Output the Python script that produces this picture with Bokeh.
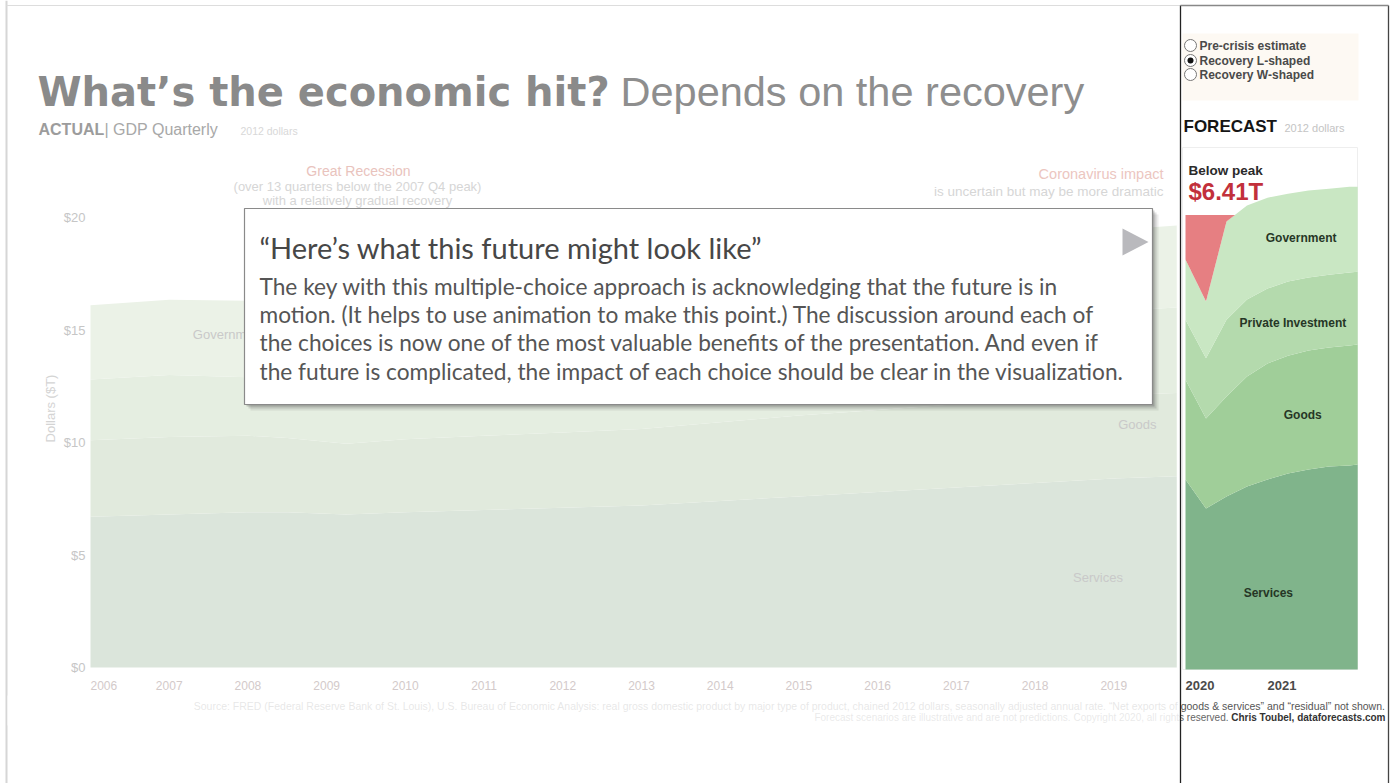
import numpy as np
from bokeh.plotting import figure
from bokeh.models import Range1d, ColumnDataSource
from bokeh.core.properties import value
from bokeh.embed import file_html
from bokeh.resources import INLINE

W, H = 1390, 783

# ---------------- data (2012 dollars, $T) ----------------
actual_years = [2006.0, 2007.0, 2008.0, 2008.5, 2009.25, 2010.0, 2011.0, 2012.0,
                2013.0, 2014.0, 2015.0, 2016.0, 2017.0, 2018.0, 2019.0, 2019.8]
actual_services = [6.7, 6.8, 6.9, 6.9, 6.8, 6.9, 7.0, 7.1, 7.2, 7.4, 7.6, 7.8, 8.0, 8.2, 8.4, 8.5]
actual_goods = [3.4, 3.45, 3.4, 3.3, 3.15, 3.25, 3.3, 3.35, 3.4, 3.5, 3.6, 3.65, 3.7, 3.75, 3.7, 3.7]
actual_invest = [2.7, 2.75, 2.6, 2.4, 2.0, 2.15, 2.35, 2.55, 2.75, 2.95, 3.15, 3.25, 3.4, 3.6, 3.75, 3.8]
actual_gov = [3.3, 3.35, 3.4, 3.45, 3.5, 3.5, 3.45, 3.4, 3.35, 3.35, 3.4, 3.45, 3.5, 3.55, 3.6, 3.65]

year_ticks = [2006, 2007, 2008, 2009, 2010, 2011, 2012, 2013, 2014, 2015, 2016, 2017, 2018, 2019]
dollar_ticks = [0, 5, 10, 15, 20]
dollar_labels = ["$0", "$5", "$10", "$15", "$20"]

fc_x = [2020.0, 2020.25, 2020.5, 2020.75, 2021.0, 2021.25, 2021.5, 2021.75, 2022.0, 2022.1]
fc_services = [8.44, 7.16, 7.69, 8.13, 8.44, 8.71, 8.89, 9.02, 9.07, 9.11]
fc_goods = [4.44, 4.00, 4.44, 4.89, 5.16, 5.24, 5.29, 5.29, 5.33, 5.33]
fc_invest = [2.67, 2.67, 3.42, 3.42, 3.33, 3.29, 3.24, 3.24, 3.24, 3.24]
fc_gov = [2.67, 2.53, 4.36, 4.18, 4.04, 3.91, 3.87, 3.82, 3.82, 3.78]
fc_peak = 20.2
fc_ticks = [2020, 2021]
below_peak_label = "$6.41T"

# ---------------- helpers ----------------
def lin_range(v0, px0, v1, px1, lo_px, hi_px):
    k = (v1 - v0) / (px1 - px0)
    return Range1d(start=v0 + (lo_px - px0) * k, end=v0 + (hi_px - px0) * k)

p = figure(width=W, height=H, x_range=Range1d(0, W), y_range=Range1d(H, 0),
           x_axis_type=None, y_axis_type=None, toolbar_location=None,
           output_backend="svg", min_border=0, outline_line_color=None,
           background_fill_color="white", border_fill_color="white")
p.grid.visible = False

p.extra_x_ranges = {"ax": lin_range(2006, 90, 2020, 1192, 0, W),
                    "fx": lin_range(2020, 1185, 2021, 1267, 0, W)}
p.extra_y_ranges = {"ay": lin_range(0, 667, 20, 217, H, 0),
                    "fy": lin_range(0, 669, 20, 219, H, 0)}


def stext(x, y, s, size, color, font="Liberation Sans", style="normal",
          align="left", baseline="middle", angle=0.0, xr="default", yr="default"):
    p.text(x=[x], y=[y], text=[s], text_font=value(font), text_font_size=f"{size}px",
           text_color=color, text_font_style=style, text_align=align,
           text_baseline=baseline, angle=angle, x_range_name=xr, y_range_name=yr)


# ---------------- slide frame ----------------
p.segment(x0=[6], y0=[0], x1=[6], y1=[H], line_color="#d6d6d6", line_width=2)
p.segment(x0=[6], y0=[5], x1=[1180], y1=[5], line_color="#dddddd", line_width=1)

# ---------------- left (actual) chart ----------------
asrc = ColumnDataSource(dict(x=actual_years, services=actual_services, goods=actual_goods,
                             invest=actual_invest, gov=actual_gov))
p.varea_stack(["services", "goods", "invest", "gov"], x="x", source=asrc,
              color=["#dbe5db", "#e1eadd", "#e5eee1", "#ebf2e7"],
              x_range_name="ax", y_range_name="ay")

# axis tick labels
p.text(x=year_ticks[1:], y=[685] * (len(year_ticks) - 1), text=[str(y) for y in year_ticks[1:]],
       text_font=value("Liberation Sans"), text_font_size="12px", text_color="#d3caca",
       text_align="center", text_baseline="middle", x_range_name="ax")
p.text(x=year_ticks[:1], y=[685], text=[str(year_ticks[0])],
       text_font=value("Liberation Sans"), text_font_size="12px", text_color="#d3caca",
       text_align="left", text_baseline="middle", x_range_name="ax")
p.text(x=[85] * len(dollar_ticks), y=dollar_ticks, text=dollar_labels,
       text_font=value("Liberation Sans"), text_font_size="13px", text_color="#c6c6c6",
       text_align="right", text_baseline="middle", y_range_name="ay")
stext(50, 408, "Dollars ($T)", 13, "#d4d4d4", align="center", angle=np.pi / 2)

# series labels (faded)
stext(2007.3, 14.8, "Government", 13, "#c9c9c9", xr="ax", yr="ay")
stext(2019.3, 10.8, "Goods", 13, "#c9c9c9", align="center", xr="ax", yr="ay")
stext(2018.8, 4.0, "Services", 13, "#c9c9c9", align="center", xr="ax", yr="ay")

# titles
stext(37, 91, "What’s the economic hit?", 40, "#8a8a8a", font="DejaVu Sans",
      style="bold", baseline="alphabetic")
stext(620, 91, "Depends on the recovery", 41.5, "#8e8e8e", baseline="alphabetic")
stext(38, 129, "ACTUAL", 16, "#9c9c9c", style="bold")
stext(104, 129, "| GDP Quarterly", 16, "#a8a8a8")
stext(240, 130, "2012 dollars", 10.5, "#d8d8d8")

# annotations
stext(358, 170, "Great Recession", 14, "#e9c3bd", align="center")
stext(357, 186, "(over 13 quarters below the 2007 Q4 peak)", 13, "#d6d6d6", align="center")
stext(357, 200, "with a relatively gradual recovery", 13, "#d6d6d6", align="center")
stext(1163, 173, "Coronavirus impact", 14.5, "#ecc6bf", align="right")
stext(1163, 191, "is uncertain but may be more dramatic", 13.5, "#d6d6d6", align="right")

# ---------------- footer ----------------
stext(1385, 705, "Source: FRED (Federal Reserve Bank of St. Louis), U.S. Bureau of Economic Analysis: real gross domestic product by major type of product, "
      "chained 2012 dollars, seasonally adjusted annual rate. \u201cNet exports of goods & services\u201d and \u201cresidual\u201d not shown.",
      10.5, "#555555", align="right")
stext(1228, 717, "Forecast scenarios are illustrative and are not predictions. Copyright 2020, all rights reserved.",
      10, "#666666", align="right")
stext(1385, 717, "Chris Toubel, dataforecasts.com", 10, "#333333", style="bold", align="right")
# fade of the background slide under the overlay
p.quad(left=[7], right=[1180], top=[695], bottom=[725], fill_color="white",
       fill_alpha=0.86, line_color=None)

# ---------------- callout ----------------
for off, a in [(6, 0.10), (4, 0.16), (2, 0.25)]:
    p.quad(left=[244 + off], right=[1152 + off], top=[208 + off], bottom=[404 + off],
           fill_color="#444444", fill_alpha=a, line_color=None)
p.quad(left=[244], right=[1152], top=[208], bottom=[404], fill_color="white",
       line_color="#8a8a8a", line_width=1.2)
p.patch(x=[1122, 1122, 1148], y=[228, 255, 241.5], fill_color="#b9b9bd", line_color=None)
stext(259, 247, "“Here’s what this future might look like”", 29, "#474747", font="Lato")
body = [
    "The key with this multiple-choice approach is acknowledging that the future is in",
    "motion. (It helps to use animation to make this point.) The discussion around each of",
    "the choices is now one of the most valuable benefits of the presentation. And even if",
    "the future is complicated, the impact of each choice should be clear in the visualization.",
]
for i, line in enumerate(body):
    stext(259, 286 + 28.2 * i, line, 22.7, "#555555", font="Lato")

# ---------------- right panel (forecast) ----------------
p.quad(left=[1181], right=[1388], top=[5], bottom=[694], fill_color="white", line_color=None)
p.quad(left=[1182], right=[1358], top=[33], bottom=[100], fill_color="#fdf9f3", line_color=None)
radio_labels = ["Pre-crisis estimate", "Recovery L-shaped", "Recovery W-shaped"]
radio_y = [45, 60, 74]
p.scatter(x=[1190] * 3, y=radio_y, size=12, marker="circle", fill_color="white",
          line_color="#777777", line_width=1)
p.scatter(x=[1190], y=[60], size=6, marker="circle", fill_color="#111111", line_color=None)
for yy, lab in zip(radio_y, radio_labels):
    stext(1199, yy, lab, 12, "#4a4a4a", style="bold")

stext(1183, 126, "FORECAST", 17, "#151515", style="bold")
stext(1284, 127, "2012 dollars", 11, "#c4c4c4")
p.quad(left=[1182], right=[1357], top=[147], bottom=[669], fill_color="white",
       line_color="#eeeeee", line_width=1)

fsrc = ColumnDataSource(dict(x=fc_x, services=fc_services, goods=fc_goods,
                             invest=fc_invest, gov=fc_gov))
p.varea_stack(["services", "goods", "invest", "gov"], x="x", source=fsrc,
              color=["#80b48b", "#a0ce99", "#b4daad", "#c9e7c3"],
              x_range_name="fx", y_range_name="fy")

# gap below the pre-crisis peak
fc_total = np.array(fc_services) + np.array(fc_goods) + np.array(fc_invest) + np.array(fc_gov)
xf = np.linspace(fc_x[0], fc_x[-1], 400)
tf = np.interp(xf, fc_x, fc_total)
p.varea(x=xf, y1=np.minimum(tf, fc_peak), y2=np.full_like(xf, fc_peak),
        fill_color="#e67f82", x_range_name="fx", y_range_name="fy")

stext(1188, 170, "Below peak", 13.5, "#2a2a2a", style="bold")
stext(1188, 191, below_peak_label, 24, "#c2303b", style="bold")

for lab, xx, yy in [("Government", 2021.41, 19.16), ("Private Investment", 2021.31, 15.38),
                    ("Goods", 2021.43, 11.33), ("Services", 2021.01, 3.42)]:
    stext(xx, yy, lab, 12, "#263626", style="bold", align="center", xr="fx", yr="fy")

p.text(x=fc_ticks, y=[685] * len(fc_ticks), text=[str(t) for t in fc_ticks],
       text_font=value("Liberation Sans"), text_font_size="13px", text_color="#4a4a4a",
       text_font_style="bold", text_align="left", text_baseline="middle", x_range_name="fx")

# panel borders
p.segment(x0=[1180, 1388, 1180], y0=[5, 5, 5], x1=[1180, 1388, 1388], y1=[H, H, 5],
          line_color=["#222222", "#444444", "#888888"], line_width=1.3)

open("out.html", "w").write(file_html(p, INLINE))
